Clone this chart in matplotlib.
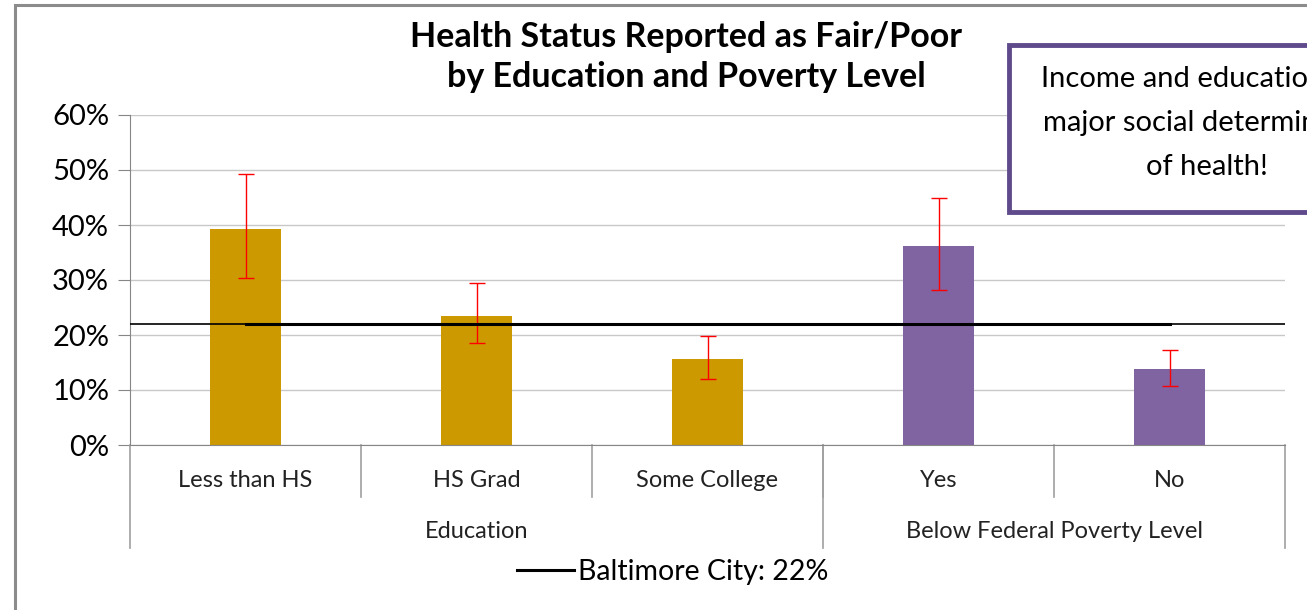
import matplotlib.pyplot as plt
import matplotlib.patches as patches
import numpy as np

plt.rcParams['font.family'] = ['Lato', 'DejaVu Sans']

# data
categories = ['Less than HS', 'HS Grad', 'Some College', 'Yes', 'No']
groups = ['Education', 'Below Federal Poverty Level']
group_sizes = [3, 2]
values = [39.3, 23.5, 15.6, 36.2, 13.8]
err_low = [30.4, 18.5, 12.0, 28.2, 10.7]
err_high = [49.3, 29.5, 19.8, 44.9, 17.3]
baltimore = 22
colors = ['#CC9900', '#CC9900', '#CC9900', '#8064A2', '#8064A2']

fig = plt.figure(figsize=(13.07, 6.10), dpi=100)
ax = fig.add_axes([130 / 1307, 165 / 610, 1155 / 1307, 330 / 610])

x = np.arange(len(categories))
vals = np.array(values)
yerr = [vals - np.array(err_low), np.array(err_high) - vals]
ax.bar(x, vals, width=0.31, color=colors, zorder=2)
ax.errorbar(x, vals, yerr=yerr, fmt='none', ecolor='red', elinewidth=1,
            capsize=6, capthick=1, zorder=3)

# baltimore city reference: thin full-width line plus thick series line
ax.axhline(baltimore, color='black', lw=1.2, zorder=4)
line, = ax.plot(x, [baltimore] * len(x), color='black', lw=2.2, zorder=4,
                label='Baltimore City: %d%%' % baltimore)

ax.set_xlim(-0.5, len(categories) - 0.5)
ax.set_ylim(0, 60)
ax.set_yticks(range(0, 61, 10))
ax.set_yticklabels(['%d%%' % v for v in range(0, 61, 10)], fontsize=21)
ax.tick_params(axis='y', length=9, color='#868686', pad=6)
ax.set_xticks([])
ax.grid(axis='y', color='#c8c8c8', lw=1, zorder=0)
for s in ['top', 'right']:
    ax.spines[s].set_visible(False)
ax.spines['left'].set_color('#868686')
ax.spines['bottom'].set_color('#868686')

# hierarchical category axis
tr = ax.get_xaxis_transform()
for i, c in enumerate(categories):
    ax.text(i, -0.108, c, transform=tr, ha='center', va='center', fontsize=17, color='#222222')
for b in np.arange(0.5, len(categories) - 1):
    ax.plot([b, b], [0, -0.158], transform=tr, color='#a0a0a0', lw=1.2, clip_on=False)
start = 0
edges = [-0.5]
for g, n in zip(groups, group_sizes):
    ax.text(start + (n - 1) / 2, -0.262, g, transform=tr, ha='center', va='center',
            fontsize=17, color='#222222')
    start += n
    edges.append(start - 0.5)
for e in edges:
    ax.plot([e, e], [0, -0.312], transform=tr, color='#a0a0a0', lw=1.2, clip_on=False)

ax.legend(handles=[line], loc='center', bbox_to_anchor=(0.47, -0.385), frameon=False,
          fontsize=20.5, handlelength=2.0, handletextpad=0.15)

fig.text(686 / 1307, 1 - 57 / 610, 'Health Status Reported as Fair/Poor\nby Education and Poverty Level',
         ha='center', va='center', fontsize=24.5, fontweight='bold', linespacing=1.28)

# outer chart frame
fig.patches.append(patches.Rectangle((15 / 1307, -0.1), 1.2, 1.1 - 5 / 610, transform=fig.transFigure,
                                     fill=False, edgecolor='#8c8c8c', lw=2.2))

# callout box (runs off the right edge as in the original)
fig.patches.append(patches.Rectangle((1009 / 1307, 1 - 212 / 610), 0.4, 167 / 610,
                                     transform=fig.transFigure, facecolor='white',
                                     edgecolor='#5F4B8B', lw=3.5, zorder=5))
fig.text(1207 / 1307, 1 - 123 / 610, 'Income and education are\nmajor social determinants\nof health!',
         ha='center', va='center', fontsize=21, linespacing=1.85, zorder=6)

fig.savefig('out.png', dpi=100)
